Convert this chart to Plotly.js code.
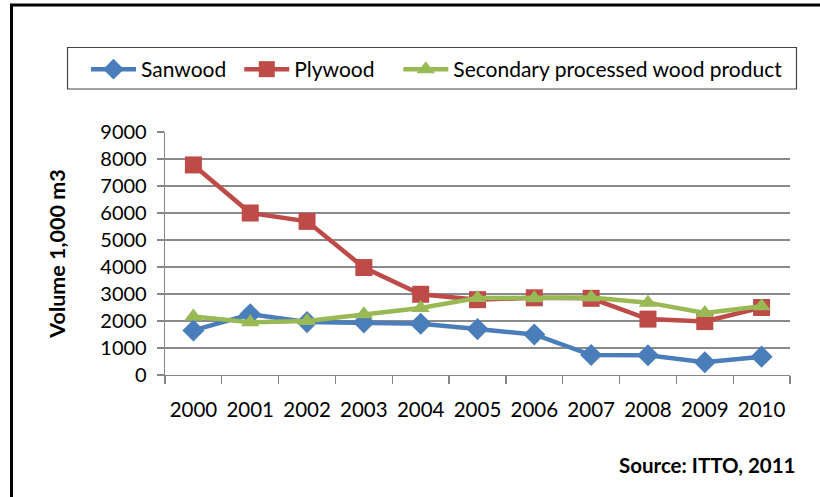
<!DOCTYPE html>
<html>
<head>
<meta charset="utf-8">
<script src="https://cdn.plot.ly/plotly-3.0.1.min.js"></script>
<style>
html,body{margin:0;padding:0;background:#fff;}
#chart{width:820px;height:497px;}
</style>
</head>
<body>
<div id="chart"></div>
<script>
var years = ['2000','2001','2002','2003','2004','2005','2006','2007','2008','2009','2010'];
var sanwood = [1650, 2250, 1960, 1950, 1900, 1700, 1500, 740, 730, 470, 680];
var plywood = [7780, 6000, 5690, 3980, 2990, 2790, 2860, 2840, 2070, 1980, 2500];
var secondary = [2170, 1950, 2000, 2250, 2480, 2850, 2840, 2870, 2680, 2300, 2550];
var seriesNames = ['Sanwood', 'Plywood', 'Secondary processed wood product'];
var yTicks = [0, 1000, 2000, 3000, 4000, 5000, 6000, 7000, 8000, 9000];

var FONT = 'Lato, "Open Sans", sans-serif';

var traces = [
  {x: years, y: sanwood, name: seriesNames[0] + '\u00a0\u2009', type: 'scatter', mode: 'lines+markers',
   line: {color: '#4A7EBB', width: 4.5},
   marker: {symbol: 'diamond', size: 17, color: '#4A7EBB'}},
  {x: years, y: plywood, name: seriesNames[1] + '\u00a0\u00a0\u00a0\u2009', type: 'scatter', mode: 'lines+markers',
   line: {color: '#BE4B48', width: 4.5},
   marker: {symbol: 'square', size: 17, color: '#BE4B48'}},
  {x: years, y: secondary, name: seriesNames[2], type: 'scatter', mode: 'lines+markers',
   line: {color: '#98B954', width: 4.5},
   marker: {symbol: 'triangle-up', size: 16, color: '#98B954'}}
];

function px2x(p) { return (p - 165) / 625; }
function px2y(p) { return (375 - p) / 243; }

var layout = {
  width: 820, height: 497,
  margin: {l: 165, r: 30, t: 132, b: 122},
  paper_bgcolor: '#ffffff', plot_bgcolor: '#ffffff',
  font: {family: FONT, size: 19, color: '#000'},
  showlegend: true,
  legend: {
    orientation: 'h', x: px2x(86), xanchor: 'left', y: px2y(49), yanchor: 'top',
    borderwidth: 0, bgcolor: 'rgba(0,0,0,0)',
    itemwidth: 45,
    font: {family: FONT, size: 21, color: '#000'},
    traceorder: 'normal'
  },
  xaxis: {
    type: 'category', range: [-0.5, 10.5], tickson: 'boundaries', ticks: 'outside', ticklen: 8,
    tickcolor: '#868686', tickwidth: 1.3, tickangle: 0,
    showline: true, linecolor: '#868686', linewidth: 1.3,
    showgrid: false, zeroline: false,
    tickfont: {family: FONT, size: 20.5, color: '#000'},
    ticklabelstandoff: 16
  },
  yaxis: {
    range: [0, 9000], tickvals: yTicks, ticktext: yTicks.map(String),
    ticks: 'outside', ticklen: 7, tickcolor: '#868686', tickwidth: 1.3,
    showline: true, linecolor: '#868686', linewidth: 1.3,
    showgrid: true, gridcolor: '#8a8a8a', gridwidth: 1.3, zeroline: false,
    tickfont: {family: FONT, size: 20, color: '#000'},
    ticklabelstandoff: 6,
    title: {text: '<b>Volume 1,000 m3</b>', font: {family: FONT, size: 21.5, color: '#000'}, standoff: 28}
  },
  shapes: [
    {type: 'rect', xref: 'paper', yref: 'paper',
     x0: px2x(11.5), x1: px2x(840), y0: px2y(520), y1: px2y(5),
     line: {color: '#000', width: 3}, fillcolor: 'rgba(0,0,0,0)'},
    {type: 'rect', xref: 'paper', yref: 'paper',
     x0: px2x(67.5), x1: px2x(796.5), y0: px2y(89), y1: px2y(47.5),
     line: {color: '#444', width: 1.2}, fillcolor: 'rgba(0,0,0,0)'}
  ],
  annotations: [
    {text: '<b>Source: ITTO, 2011</b>', xref: 'paper', yref: 'paper',
     x: px2x(797), xanchor: 'right', y: px2y(465), yanchor: 'middle',
     showarrow: false, font: {family: FONT, size: 20.5, color: '#000'}}
  ]
};

Plotly.newPlot('chart', traces, layout, {displayModeBar: false, staticPlot: true});
</script>
</body>
</html>
